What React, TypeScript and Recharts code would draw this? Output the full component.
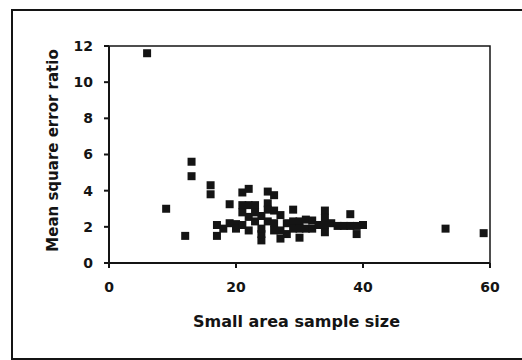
import React from 'react';
import { ScatterChart, Scatter, XAxis, YAxis, ZAxis, ReferenceArea } from 'recharts';

// small area sample size (x) and mean square error ratio (y), one entry per area
const sampleSize = [
  6, 9, 12, 13, 13, 16, 16, 17, 17, 18,
  19, 19, 20, 20, 21, 21, 21, 21, 22, 22,
  22, 22, 23, 23, 23, 24, 24, 24, 24, 25,
  25, 25, 25, 26, 26, 26, 26, 27, 27, 27,
  28, 28, 29, 29, 29, 30, 30, 30, 31, 31,
  32, 32, 33, 34, 34, 34, 34, 35, 36, 37,
  38, 38, 39, 39, 40, 53, 59,
];
const mseRatio = [
  11.6, 3.0, 1.5, 5.6, 4.8, 4.3, 3.8, 2.1, 1.5, 1.9,
  3.25, 2.2, 2.15, 1.9, 3.9, 3.2, 2.8, 2.1, 4.1, 3.2,
  2.55, 1.8, 3.2, 2.8, 2.3, 1.25, 1.6, 1.9, 2.6, 3.95,
  3.3, 2.95, 2.3, 3.75, 2.9, 2.2, 1.8, 2.65, 1.35, 1.8,
  2.2, 1.6, 2.95, 2.3, 1.9, 1.4, 2.3, 1.9, 2.4, 1.9,
  2.35, 1.9, 2.1, 2.9, 2.5, 2.1, 1.7, 2.2, 2.05, 2.05,
  2.7, 2.05, 1.6, 2.05, 2.1, 1.9, 1.65,
];
const xTicks = [0, 20, 40, 60];
const yTicks = [0, 2, 4, 6, 8, 10, 12];

const points = sampleSize.map((n, i) => ({ n, mse: mseRatio[i] }));

const font = '"DejaVu Sans", Arial, sans-serif';
const ink = '#141414';

export default function App() {
  return (
    <div style={{ position: 'fixed', left: 0, top: 0, width: 522, height: 360, background: '#fff', overflow: 'hidden' }}>
      {/* outer frame, open on the right */}
      <div
        style={{
          position: 'absolute',
          left: 11,
          top: 9,
          width: 560,
          height: 347,
          borderTop: `2px solid ${ink}`,
          borderLeft: `2px solid ${ink}`,
          borderBottom: `2px solid ${ink}`,
        }}
      />
      <ScatterChart
        width={522}
        height={360}
        margin={{ top: 46, right: 32, bottom: 37, left: 0 }}
        style={{ position: 'absolute', left: 0, top: 0, fontFamily: font }}
      >
        <ReferenceArea x1={0} x2={60} y1={0} y2={12} fill="none" stroke={ink} strokeWidth={1.5} fillOpacity={0} />
        <XAxis
          type="number"
          dataKey="n"
          domain={[0, 60]}
          ticks={xTicks}
          height={60}
          axisLine={{ stroke: ink, strokeWidth: 2 }}
          tickLine={{ stroke: ink, strokeWidth: 2 }}
          tickSize={5}
          tickMargin={14}
          tick={{ fill: ink, fontSize: 14, fontWeight: 700, fontFamily: font }}
          label={{
            value: 'Small area sample size',
            position: 'insideBottom',
            offset: -4,
            dx: -3,
            fill: ink,
            fontSize: 16,
            fontWeight: 700,
            fontFamily: font,
          }}
        />
        <YAxis
          type="number"
          dataKey="mse"
          domain={[0, 12]}
          ticks={yTicks}
          width={109}
          axisLine={{ stroke: ink, strokeWidth: 2 }}
          tickLine={{ stroke: ink, strokeWidth: 2 }}
          tickSize={5}
          tickMargin={11}
          tick={{ fill: ink, fontSize: 14, fontWeight: 700, fontFamily: font }}
          label={{
            value: 'Mean square error ratio',
            angle: -90,
            position: 'center',
            dx: -2,
            dy: -4,
            fill: ink,
            fontSize: 15,
            fontWeight: 700,
            fontFamily: font,
          }}
        />
        <ZAxis range={[28, 28]} />
        <Scatter data={points} shape="square" fill={ink} isAnimationActive={false} />
      </ScatterChart>
    </div>
  );
}
